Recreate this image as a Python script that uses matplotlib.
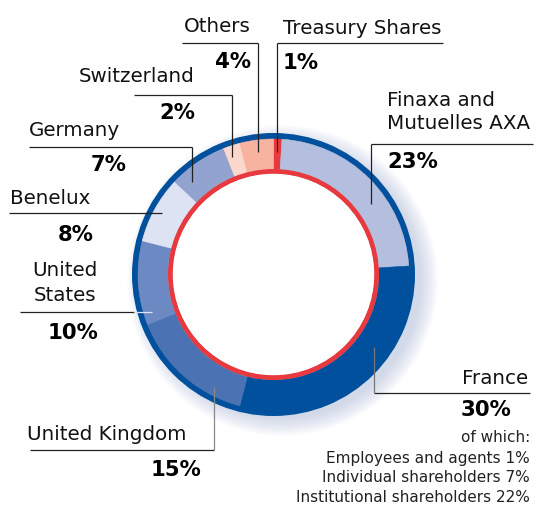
import matplotlib
matplotlib.use("Agg")
import matplotlib.pyplot as plt
from matplotlib.patches import Circle

# ---- data (clockwise from top) ----
categories = ["Treasury Shares", "Finaxa and\nMutuelles AXA", "France", "United Kingdom",
              "United\nStates", "Benelux", "Germany", "Switzerland", "Others"]
shares = [1, 23, 30, 15, 10, 8, 7, 2, 4]
pct_labels = [f"{v}%" for v in shares]
france_detail_title = "of which:"
france_detail = ["Employees and agents 1%", "Individual shareholders 7%",
                 "Institutional shareholders 22%"]

colors = ["#e8393f", "#b4bfdf", "#00509d", "#4b73b4", "#6d89c3",
          "#dde3f2", "#93a3cf", "#fcd7cd", "#f8b3a0"]

W, H = 539, 519
fig = plt.figure(figsize=(W / 100, H / 100), dpi=100)
ax = fig.add_axes([0, 0, 1, 1])

cx, cy = 273.5, 274.5
R_out = 141.5
R_seg = 135.5
R_in = 105.5
ring_w = 5.0

# soft shadow glow (offset to lower right)
for i in range(12):
    r = R_out - 4 + i * 1.6
    ax.add_patch(Circle((cx + 9, cy + 6), r, facecolor="#a9b6d8",
                        alpha=0.05, lw=0, zorder=0))

# outer dark ring
ax.pie([1], colors=["#00509d"], radius=R_out, center=(cx, cy),
       wedgeprops=dict(width=R_out - R_seg + 0.5, linewidth=0), startangle=-90)
# segments
ax.pie(shares, colors=colors, radius=R_seg, center=(cx, cy), startangle=-90,
       counterclock=True,
       wedgeprops=dict(width=R_seg - R_in, linewidth=0.4))
for w in ax.patches[-len(shares):]:
    w.set_edgecolor(w.get_facecolor())
# inner red ring
ax.pie([1], colors=["#e8393f"], radius=R_in, center=(cx, cy),
       wedgeprops=dict(width=ring_w, linewidth=0), startangle=-90)
# white hole
ax.add_patch(Circle((cx, cy), R_in - ring_w + 0.2, facecolor="white", lw=0, zorder=3))

ax.set_xlim(0, W)
ax.set_ylim(H, 0)
ax.set_aspect("equal")
ax.axis("off")

LFONT = dict(family=["DejaVu Sans"], fontsize=14.3, color="#111111")
BFONT = dict(family=["DejaVu Sans"], fontsize=15.3, color="#000000", fontweight="bold")
SFONT = dict(family=["DejaVu Sans"], fontsize=11, color="#222222")
LW = 0.9
LC = "#222222"

def line(xs, ys, c=LC):
    ax.plot(xs, ys, color=c, lw=LW, solid_capstyle="butt", zorder=5)

# Treasury Shares
ax.text(283, 28, categories[0], ha="left", va="center", **LFONT)
line([277, 443], [43, 43]); line([277, 277], [43, 152])
ax.text(283, 63, pct_labels[0], ha="left", va="center", **BFONT)

# Finaxa
ax.text(387, 112, categories[1], ha="left", va="center", linespacing=1.25, **LFONT)
line([371, 533], [144, 144]); line([371, 371], [144, 204])
ax.text(387, 162, pct_labels[1], ha="left", va="center", **BFONT)

# France
ax.text(528, 378, categories[2], ha="right", va="center", **LFONT)
line([374, 530], [393, 393]); line([374, 374], [347, 393], c="#777777")
ax.text(511, 410, pct_labels[2], ha="right", va="center", **BFONT)
ax.text(530, 438, france_detail_title, ha="right", va="center", **SFONT)
for i, t in enumerate(france_detail):
    ax.text(530, 458 + 20 * i, t, ha="right", va="center", **SFONT)

# United Kingdom
ax.text(27, 435, categories[3], ha="left", va="center", **LFONT)
line([30, 214], [450, 450]); line([214, 214], [387, 450], c="#888888")
ax.text(201, 470, pct_labels[3], ha="right", va="center", **BFONT)

# United States
ax.text(98, 283, categories[4], ha="right", va="center", linespacing=1.4,
        multialignment="center", **LFONT)
line([20, 134], [312, 312]); line([134, 152], [312, 312], c="#dde3f2")
ax.text(98, 333, pct_labels[4], ha="right", va="center", **BFONT)

# Benelux
ax.text(10, 199, categories[5], ha="left", va="center", **LFONT)
line([9, 162], [213, 213])
ax.text(94, 235, pct_labels[5], ha="right", va="center", **BFONT)

# Germany
ax.text(29, 131, categories[6], ha="left", va="center", **LFONT)
line([29, 192], [147, 147]); line([192, 192], [147, 182])
ax.text(127, 165, pct_labels[6], ha="right", va="center", **BFONT)

# Switzerland
ax.text(195, 77, categories[7], ha="right", va="center", **LFONT)
line([134, 232], [95, 95]); line([232, 232], [95, 157])
ax.text(195, 113, pct_labels[7], ha="right", va="center", **BFONT)

# Others
ax.text(251, 27, categories[8], ha="right", va="center", **LFONT)
line([182, 258], [43, 43]); line([258, 258], [43, 152])
ax.text(251, 62, pct_labels[8], ha="right", va="center", **BFONT)

fig.savefig("out.png", dpi=100)
